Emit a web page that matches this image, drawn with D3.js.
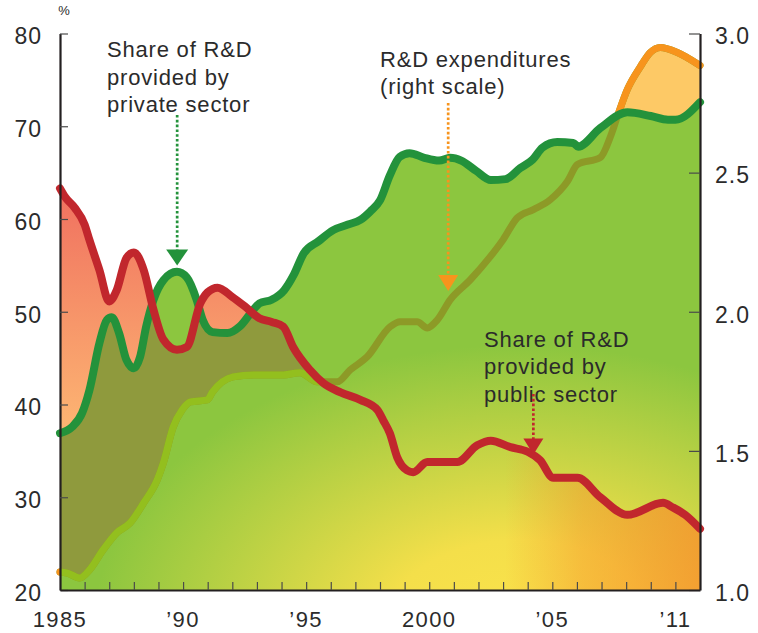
<!DOCTYPE html>
<html>
<head>
<meta charset="utf-8">
<script src="https://cdn.jsdelivr.net/npm/d3@7"></script>
<style>
body { margin: 0; background: #fff; }
text { font-family: "Liberation Sans", Arial, sans-serif; fill: #2b2b2b; }
</style>
</head>
<body>
<div id="chart"></div>
<script>
// Share of R&D provided by private sector (%, left scale)
var privateYears = [1985.0, 1985.5, 1985.9, 1986.2, 1986.6, 1986.9, 1987.1, 1987.4, 1987.7, 1988.0,
    1988.25, 1988.5, 1988.8, 1989.2, 1989.75, 1990.15, 1990.55, 1990.8, 1991.2, 1991.8,
    1992.3, 1992.85, 1993.1, 1993.6, 1994.1, 1994.5, 1994.9, 1995.5, 1996.1, 1996.7,
    1997.2, 1997.6, 1998.0, 1998.4, 1998.8, 1999.2, 1999.8, 2000.4, 2000.85, 2001.3,
    2001.9, 2002.5, 2003.1, 2003.7, 2004.2, 2004.6, 2005.2, 2005.85, 2006.05, 2006.95,
    2008.05, 2009.0, 2009.7, 2010.0, 2011.0];
var privateShare = [36.9, 37.6, 39.1, 41.6, 46.6, 49.1, 49.4, 47.7, 44.8, 43.9,
    45.1, 48.4, 51.3, 53.4, 54.3, 53.7, 51.3, 49.1, 47.8, 47.7,
    48.4, 50.2, 50.9, 51.3, 52.3, 54.0, 56.3, 57.6, 58.8, 59.4,
    59.9, 60.8, 62.0, 64.7, 66.7, 67.1, 66.6, 66.3, 66.6, 66.3,
    65.2, 64.2, 64.3, 65.5, 66.4, 67.7, 68.3, 68.2, 67.8, 69.8,
    71.5, 71.1, 70.7, 70.7, 72.6];

// Share of R&D provided by public sector (%, left scale)
var publicYears = [1985.0, 1985.2, 1985.6, 1986.0, 1986.2, 1986.6, 1987.0, 1987.3, 1987.7, 1988.0,
    1988.4, 1988.8, 1989.2, 1989.75, 1990.15, 1990.7, 1991.0, 1991.4, 1992.0, 1992.5,
    1993.1, 1993.6, 1994.07, 1994.47, 1995.16, 1995.7, 1996.4, 1997.2, 1997.9, 1998.13,
    1998.4, 1998.7, 1999.1, 1999.35, 1999.92, 2001.14, 2001.95, 2002.5, 2003.3, 2004.0,
    2004.5, 2005.04, 2006.02, 2006.95, 2008.05, 2009.5, 2009.9, 2010.4, 2011.0];
var publicShare = [63.3, 62.4, 61.2, 59.4, 57.7, 54.5, 51.1, 52.3, 55.8, 56.4,
    54.5, 50.2, 47.0, 45.9, 46.2, 50.9, 52.1, 52.6, 51.6, 50.6,
    49.3, 48.9, 48.4, 46.2, 43.7, 42.3, 41.3, 40.5, 39.4, 38.3,
    36.9, 34.3, 32.9, 32.7, 33.8, 33.8, 35.6, 36.1, 35.4, 34.9,
    34.0, 32.1, 32.1, 30.0, 28.1, 29.4, 28.9, 28.1, 26.6];

// R&D expenditures (% of GDP, right scale)
var spendYears = [1985.0, 1985.3, 1985.8, 1986.2, 1986.75, 1987.3, 1987.85, 1988.4, 1988.95, 1989.2,
    1989.6, 1989.96, 1990.3, 1990.98, 1991.2, 1992.03, 1992.85, 1994.07, 1994.75, 1995.45,
    1996.26, 1996.79, 1997.48, 1998.41, 1998.82, 1999.51, 1999.92, 2000.33, 2000.85, 2001.67,
    2002.48, 2003.0, 2003.58, 2004.23, 2004.92, 2005.61, 2006.02, 2006.95, 2007.36, 2007.64,
    2008.05, 2008.58, 2008.98, 2009.39, 2010.08, 2011.0];
var spendValues = [1.065, 1.061, 1.043, 1.072, 1.144, 1.205, 1.241, 1.313, 1.396, 1.457,
    1.586, 1.647, 1.676, 1.683, 1.712, 1.766, 1.773, 1.773, 1.781, 1.748,
    1.748, 1.791, 1.838, 1.946, 1.964, 1.964, 1.942, 1.971, 2.043, 2.115,
    2.198, 2.259, 2.338, 2.367, 2.403, 2.468, 2.529, 2.554, 2.629, 2.701,
    2.799, 2.881, 2.932, 2.950, 2.932, 2.885];

var leftTicks = [20, 30, 40, 50, 60, 70, 80];
var rightTicks = [1.0, 1.5, 2.0, 2.5, 3.0];
var yearTicks = d3.range(1986, 2011);
var yearLabelPos = [1985, 1990, 1995, 2000, 2005, 2010];
var yearLabels = ["1985", "\u201990", "\u201995", "2000", "\u201905", "\u201911"];

var width = 758;
var height = 633;

var x = d3.scaleLinear().domain([1985, 2011]).range([60, 700]);
var y = d3.scaleLinear().domain([20, 80]).range([590, 33.5]);
var yR = d3.scaleLinear().domain([1.0, 3.0]).range([590, 33.5]);

var privateData = privateYears.map((d, i) => ({ year: d, v: privateShare[i] }));
var publicData = publicYears.map((d, i) => ({ year: d, v: publicShare[i] }));
var spendData = spendYears.map((d, i) => ({ year: d, v: spendValues[i] }));

var svg = d3.select('#chart')
    .append('svg')
    .attr('width', width)
    .attr('height', height);

var defs = svg.append('defs');

// background green -> yellow glow (wide ellipse at the bottom)
var bg = defs.append('radialGradient')
    .attr('id', 'bgGrad')
    .attr('gradientUnits', 'userSpaceOnUse')
    .attr('cx', 520).attr('cy', 630).attr('r', 300)
    .attr('gradientTransform', 'translate(520,630) scale(1.5,1) translate(-520,-630)');
bg.append('stop').attr('offset', 0).attr('stop-color', '#fbe34b');
bg.append('stop').attr('offset', 0.3).attr('stop-color', '#f4df4a');
bg.append('stop').attr('offset', 0.95).attr('stop-color', '#8cc63f');
bg.append('stop').attr('offset', 1).attr('stop-color', '#8cc63f');

var salmon = defs.append('linearGradient')
    .attr('id', 'salmonGrad')
    .attr('gradientUnits', 'userSpaceOnUse')
    .attr('x1', 0).attr('y1', 185).attr('x2', 0).attr('y2', 440);
salmon.append('stop').attr('offset', 0).attr('stop-color', '#f06f5f');
salmon.append('stop').attr('offset', 1).attr('stop-color', '#fdb873');

var tint = defs.append('linearGradient')
    .attr('id', 'tintGrad')
    .attr('gradientUnits', 'userSpaceOnUse')
    .attr('x1', 505).attr('y1', 0).attr('x2', 700).attr('y2', 0);
tint.append('stop').attr('offset', 0).attr('stop-color', '#f7922a').attr('stop-opacity', 0);
tint.append('stop').attr('offset', 0.4).attr('stop-color', '#f7922a').attr('stop-opacity', 0.45);
tint.append('stop').attr('offset', 1).attr('stop-color', '#f8922c').attr('stop-opacity', 0.8);

var curve = d3.curveMonotoneX;

var areaL = d3.area().curve(curve).x(d => x(d.year)).y0(590).y1(d => y(d.v));
var areaR = d3.area().curve(curve).x(d => x(d.year)).y0(590).y1(d => yR(d.v));
var aboveL = d3.area().curve(curve).x(d => x(d.year)).y0(0).y1(d => y(d.v));
var lineL = d3.line().curve(curve).x(d => x(d.year)).y(d => y(d.v));
var lineR = d3.line().curve(curve).x(d => x(d.year)).y(d => yR(d.v));

defs.append('clipPath').attr('id', 'clipGreen')
    .append('path').attr('d', areaL(privateData));
var aboveClip = defs.append('clipPath').attr('id', 'clipAboveGreen');
aboveClip.append('path').attr('d', aboveL(privateData));
aboveClip.append('rect').attr('x', 0).attr('y', 0).attr('width', x(1985)).attr('height', 590);
aboveClip.append('rect').attr('x', x(2011)).attr('y', 0).attr('width', 58).attr('height', 590);
defs.append('clipPath').attr('id', 'clipBelowRed')
    .append('path').attr('d', areaL(publicData));

// fills
svg.append('path').attr('d', areaL(publicData)).attr('fill', 'url(#salmonGrad)');
svg.append('path').attr('d', areaR(spendData)).attr('fill', '#fdc966');
svg.append('path').attr('d', areaL(privateData)).attr('fill', 'url(#bgGrad)');
svg.append('path').attr('d', areaL(publicData)).attr('fill', '#8f9a3d')
    .attr('clip-path', 'url(#clipGreen)');
svg.append('path').attr('d', areaR(spendData)).attr('fill', 'url(#bgGrad)')
    .attr('clip-path', 'url(#clipGreen)');
svg.append('path').attr('d', areaL(publicData)).attr('fill', 'url(#tintGrad)')
    .attr('clip-path', 'url(#clipGreen)');

// R&D expenditures line, coloured by what it passes over
svg.append('path').attr('d', lineR(spendData))
    .attr('fill', 'none').attr('stroke', '#8d9a27').attr('stroke-width', 7)
    .attr('stroke-linejoin', 'round').attr('stroke-linecap', 'round');
svg.append('path').attr('d', lineR(spendData))
    .attr('fill', 'none').attr('stroke', '#93bf1e').attr('stroke-width', 7)
    .attr('stroke-linejoin', 'round').attr('stroke-linecap', 'round')
    .attr('clip-path', 'url(#clipBelowRed)');
svg.append('path').attr('d', lineR(spendData))
    .attr('fill', 'none').attr('stroke', '#f7941d').attr('stroke-width', 7)
    .attr('stroke-linejoin', 'round').attr('stroke-linecap', 'round')
    .attr('clip-path', 'url(#clipAboveGreen)');

svg.append('path').attr('d', lineL(privateData))
    .attr('fill', 'none').attr('stroke', '#23923b').attr('stroke-width', 8)
    .attr('stroke-linejoin', 'round').attr('stroke-linecap', 'round');
svg.append('path').attr('d', lineL(publicData))
    .attr('fill', 'none').attr('stroke', '#c1272d').attr('stroke-width', 8)
    .attr('stroke-linejoin', 'round').attr('stroke-linecap', 'round');

// axes
var leftAxis = svg.append('g')
    .attr('transform', 'translate(60,0)')
    .call(d3.axisLeft(y).tickValues(leftTicks).tickSizeInner(-8).tickSizeOuter(0).tickPadding(18));
var rightAxis = svg.append('g')
    .attr('transform', 'translate(700,0)')
    .call(d3.axisRight(yR).tickValues(rightTicks).tickSizeInner(-11).tickSizeOuter(0).tickPadding(15)
        .tickFormat(d3.format('.1f')));
var bottomAxis = svg.append('g')
    .attr('transform', 'translate(0,590)')
    .call(d3.axisBottom(x).tickValues(yearTicks).tickSizeInner(-8).tickSizeOuter(0).tickFormat(''));

[leftAxis, rightAxis, bottomAxis].forEach(function (g) {
    g.select('.domain').attr('stroke', '#231f20').attr('stroke-width', 2.2);
    g.selectAll('.tick line').attr('stroke', '#4a4a4a').attr('stroke-width', 1.2);
    g.selectAll('.tick text')
        .attr('dy', '0.45em')
        .style('font-size', '23px')
        .style('font-family', '"Liberation Sans", Arial, sans-serif')
        .style('letter-spacing', '1px')
        .attr('fill', '#2b2b2b');
});

svg.append('g').selectAll('text')
    .data(yearLabelPos)
    .enter()
    .append('text')
    .attr('x', d => x(d))
    .attr('y', 627)
    .attr('text-anchor', 'middle')
    .style('font-size', '22px')
    .style('letter-spacing', '1.4px')
    .text((d, i) => yearLabels[i]);

svg.append('text')
    .attr('x', 64).attr('y', 15)
    .attr('text-anchor', 'middle')
    .style('font-size', '13px')
    .text('%');

// annotations
function note(lines, x0, y0) {
    var t = svg.append('text')
        .style('font-size', '22px')
        .style('letter-spacing', '0.8px');
    lines.forEach(function (s, i) {
        t.append('tspan').attr('x', x0).attr('y', y0 + i * 27.5).text(s);
    });
}
note(['Share of R&D', 'provided by', 'private sector'], 107, 57);
note(['R&D expenditures', '(right scale)'], 380, 66.5);
note(['Share of R&D', 'provided by', 'public sector'], 484, 346.5);

function arrow(ax, yStart, yTip, color, w) {
    svg.append('line')
        .attr('x1', ax).attr('x2', ax)
        .attr('y1', yStart).attr('y2', yTip - 14)
        .attr('stroke', color).attr('stroke-width', 2.7)
        .attr('stroke-dasharray', '2.6,2.2');
    svg.append('path')
        .attr('d', 'M' + (ax - w / 2) + ',' + (yTip - 16) + 'L' + (ax + w / 2) + ',' + (yTip - 16) + 'L' + ax + ',' + yTip + 'Z')
        .attr('fill', color);
}
arrow(x(1989.76), 115, y(55.0), '#23923b', 22);
arrow(x(2000.77), 103, yR(2.075), '#f7941d', 20);
arrow(x(2004.23), 394, y(34.6), '#c1272d', 20);
</script>
</body>
</html>
